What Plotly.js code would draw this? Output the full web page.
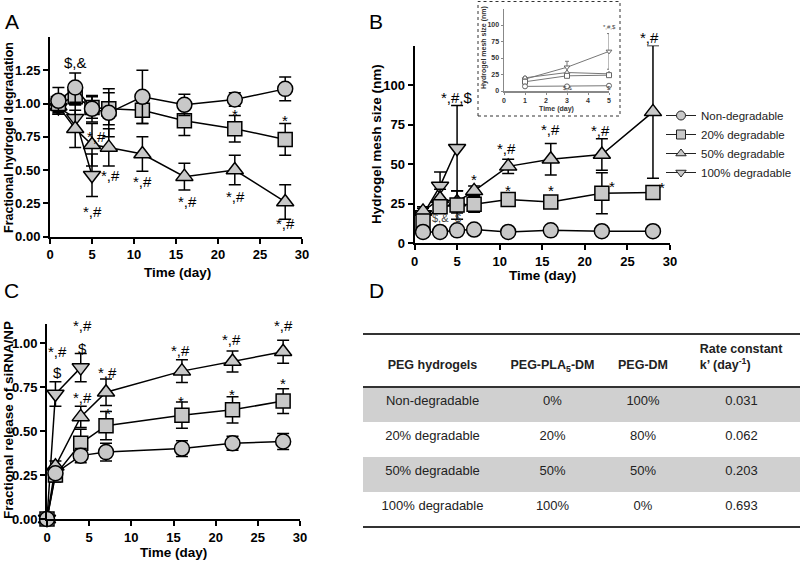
<!DOCTYPE html>
<html>
<head>
<meta charset="utf-8">
<script src="https://cdn.plot.ly/plotly-3.0.1.min.js"></script>
<style>html,body{margin:0;padding:0;background:#fff;}#chart{width:800px;height:561px;}</style>
</head>
<body>
<div id="chart"></div>
<script>
// ---------------- DATA ----------------
const seriesNames = ['Non-degradable', '20% degradable', '50% degradable', '100% degradable'];

// Panel A: fractional hydrogel degradation
const daysA = [1, 3, 5, 7, 11, 16, 22, 28];
const daysA100 = [1, 3, 5];
const A_non = [1.02, 1.12, 0.96, 0.93, 1.05, 0.99, 1.03, 1.11];
const A_nonErr = [0.10, 0.11, 0.10, 0.18, 0.20, 0.08, 0.05, 0.09];
const A_20 = [1.00, 1.05, 0.97, 0.96, 0.95, 0.87, 0.81, 0.73];
const A_20Err = [0.06, 0.06, 0.08, 0.12, 0.10, 0.11, 0.10, 0.12];
const A_50 = [0.98, 0.81, 0.69, 0.67, 0.62, 0.45, 0.50, 0.26];
const A_50Err = [0.05, 0.14, 0.16, 0.14, 0.13, 0.10, 0.11, 0.13];
const A_100 = [0.97, 0.89, 0.46];
const A_100Err = [0.05, 0.10, 0.16];
const annA_x = [3, 5.5, 5, 7.2, 11, 16.4, 22.1, 22, 28, 28];
const annA_y = [1.31, 0.75, 0.19, 0.455, 0.41, 0.26, 0.30, 0.92, 0.87, 0.10];
const annA_t = ['$,&', '*,#', '*,#', '*,#', '*,#', '*,#', '*,#', '*', '*', '*,#'];

// Panel B: hydrogel mesh size (nm)
const daysB = [1, 3, 5, 7, 11, 16, 22, 28];
const daysB100 = [1, 3, 5];
const B_non = [7, 7, 8, 8.5, 7, 8, 7.5, 7.5];
const B_nonErr = [1, 1, 1, 1, 1, 1, 1, 1];
const B_20 = [14, 23, 24, 24.5, 27.5, 26, 31.5, 32];
const B_20Err = [4, 4, 9, 5, 3, 3, 13, 3];
const B_50 = [20, 28, 26, 33, 48.5, 53, 56, 83];
const B_50Err = [3, 6, 7, 3, 4.5, 10, 10, 42];
const B_100 = [18, 36, 60];
const B_100Err = [4, 9, 27];
const annB_x = [5, 7, 10.8, 11, 16, 16, 21.8, 23.2, 27.6, 29.1];
const annB_y = [92, 40, 60, 33, 72, 33, 71.5, 36, 124, 35];
const annB_t = ['*,#,$', '*', '*,#', '*', '*,#', '*', '*,#', '*', '*,#', '*'];
const annB_shift = [0, 0, 0, 0, 0, 0, 0, 0, 10, 0];
const annBsmall_x = [3, 5.1];
const annBsmall_y = [16, 16];
const annBsmall_t = ['$,&', '$'];

// Inset of panel B (days 1-5)
const daysInset = [1, 3, 5];
const inset_non = [7, 7, 8];
const inset_20 = [14, 23, 24];
const inset_50 = [20, 28, 26];
const inset_100 = [18, 36, 60];
const inset_100Err = [4, 9, 27];
const annI_x = [5, 3, 5];
const annI_y = [97, 5, 5];
const annI_t = ['*,#,$', '$,&', '$'];

// Panel C: fractional release of siRNA/NP
const daysC = [0, 1, 4, 7, 16, 22, 28];
const daysC100 = [0, 1, 4];
const C_non = [0, 0.26, 0.36, 0.38, 0.40, 0.43, 0.44];
const C_nonErr = [0, 0.03, 0.04, 0.05, 0.045, 0.04, 0.045];
const C_20 = [0, 0.25, 0.43, 0.53, 0.59, 0.62, 0.67];
const C_20Err = [0, 0.04, 0.08, 0.08, 0.075, 0.075, 0.07];
const C_50 = [0, 0.30, 0.58, 0.72, 0.84, 0.895, 0.95];
const C_50Err = [0, 0.03, 0.06, 0.075, 0.065, 0.06, 0.065];
const C_100 = [0, 0.71, 0.86];
const C_100Err = [0, 0.07, 0.08];
const annC_x = [1.2, 1.2, 4.15, 4.15, 4.15, 7.2, 7.2, 15.8, 15.9, 21.9, 21.9, 28, 28];
const annC_y = [0.95, 0.83, 1.10, 0.97, 0.69, 0.835, 0.60, 0.96, 0.67, 1.02, 0.71, 1.10, 0.77];
const annC_t = ['*,#', '$', '*,#', '$', '*,#', '*,#', '*', '*,#', '*', '*,#', '*', '*,#', '*'];

// Panel D: table
const tableHeader = ['\u00a0<br><b>PEG hydrogels</b>', '\u00a0<br><b>PEG-PLA<sub>5</sub>-DM</b>', '\u00a0<br><b>PEG-DM</b>', '<b>Rate constant<br>k’ (day<sup>-1</sup>)</b>'];
const tableGroups = ['Non-degradable', '20% degradable', '50% degradable', '100% degradable'];
const tablePLA = ['0%', '20%', '50%', '100%'];
const tableDM = ['100%', '80%', '50%', '0%'];
const tableRate = ['0.031', '0.062', '0.203', '0.693'];

// --------------- LAYOUT HELPERS ---------------
const W = 800, H = 561;
const px = p => p / W;
const py = p => 1 - p / H;
const FONT = 'Arial, "Liberation Sans", sans-serif';
const symbols = ['circle', 'square', 'triangle-up', 'triangle-down'];
const sizes = {'circle': 15, 'square': 14, 'triangle-up': 15, 'triangle-down': 15};

function series(idx, x, y, err, xa, ya) {
  return {
    type: 'scatter', mode: 'lines+markers', name: seriesNames[idx], x: x, y: y,
    xaxis: xa, yaxis: ya, showlegend: false, cliponaxis: false,
    line: {color: '#000', width: 1.5},
    marker: {symbol: symbols[idx], size: sizes[symbols[idx]], color: '#c8c8c8', line: {color: '#000', width: 1.5}},
    error_y: {type: 'data', array: err, visible: true, color: '#000', thickness: 1.5, width: 6},
    hoverinfo: 'skip'
  };
}
function legendEntry(idx) {
  return {
    type: 'scatter', mode: 'lines+markers', name: seriesNames[idx], x: [null], y: [null],
    xaxis: 'x2', yaxis: 'y2', showlegend: true, legendrank: idx + 1,
    line: {color: '#222', width: 1},
    marker: {symbol: symbols[idx], size: 9, color: '#c8c8c8', line: {color: '#222', width: 1}},
    hoverinfo: 'skip'
  };
}
function insetSeries(idx, x, y, err) {
  return {
    type: 'scatter', mode: 'lines+markers', name: seriesNames[idx], x: x, y: y,
    xaxis: 'x4', yaxis: 'y4', showlegend: false, cliponaxis: false,
    line: {color: '#777', width: 1},
    marker: {symbol: symbols[idx], size: 5, color: '#fff', line: {color: '#666', width: 1}},
    error_y: {type: 'data', array: err || y.map(() => 0), visible: !!err, color: '#777', thickness: 1, width: 2},
    hoverinfo: 'skip'
  };
}

const traces = [];
// Panel A (draw order: 100%, 50%, 20%, Non)
traces.push(series(3, daysA100, A_100, A_100Err, 'x', 'y'));
traces.push(series(2, daysA, A_50, A_50Err, 'x', 'y'));
traces.push(series(1, daysA, A_20, A_20Err, 'x', 'y'));
traces.push(series(0, daysA, A_non, A_nonErr, 'x', 'y'));
// Panel B
traces.push(series(3, daysB100, B_100, B_100Err, 'x2', 'y2'));
traces.push(series(2, daysB, B_50, B_50Err, 'x2', 'y2'));
traces.push(series(1, daysB, B_20, B_20Err, 'x2', 'y2'));
traces.push(series(0, daysB, B_non, B_nonErr, 'x2', 'y2'));
// Panel C
traces.push(series(3, daysC100, C_100, C_100Err, 'x3', 'y3'));
traces.push(series(2, daysC, C_50, C_50Err, 'x3', 'y3'));
traces.push(series(1, daysC, C_20, C_20Err, 'x3', 'y3'));
traces.push(series(0, daysC, C_non, C_nonErr, 'x3', 'y3'));
// Inset
traces.push(insetSeries(3, daysInset, inset_100, inset_100Err));
traces.push(insetSeries(2, daysInset, inset_50));
traces.push(insetSeries(1, daysInset, inset_20));
traces.push(insetSeries(0, daysInset, inset_non));
// Legend entries
[0, 1, 2, 3].forEach(i => traces.push(legendEntry(i)));

// Panel D table
const rowFill = ['#d0d0d0', '#ffffff', '#d0d0d0', '#ffffff'];
traces.push({
  type: 'table',
  domain: {x: [px(363), 1], y: [py(545), py(334)]},
  columnwidth: [139, 101, 80, 117],
  header: {
    values: tableHeader,
    align: 'center', height: 53,
    fill: {color: '#ffffff'},
    line: {color: 'rgba(0,0,0,0)', width: 0},
    font: {family: FONT, size: 12.5, color: '#222'}
  },
  cells: {
    values: [tableGroups, tablePLA, tableDM, tableRate],
    align: 'center', height: 35,
    fill: {color: [rowFill, rowFill, rowFill, rowFill]},
    line: {color: 'rgba(0,0,0,0)', width: 0},
    font: {family: FONT, size: 13, color: '#222'}
  }
});

function axis(domain, range, tickvals, anchor, fmt, opts) {
  const a = {
    domain: domain, range: range, tickvals: tickvals, anchor: anchor,
    showgrid: false, zeroline: false, showline: true, linewidth: 2, linecolor: '#000',
    ticks: 'outside', ticklen: 5, tickwidth: 2, tickcolor: '#000',
    tickfont: {family: FONT, size: 13, color: '#000', weight: 'bold'},
    fixedrange: true, automargin: false
  };
  if (fmt) a.tickformat = fmt;
  return Object.assign(a, opts || {});
}

const ticks30 = [0, 5, 10, 15, 20, 25, 30];
const insetAxisStyle = {linewidth: 1.5, linecolor: '#888', ticklen: 2, tickwidth: 1, tickcolor: '#888',
  tickfont: {family: FONT, size: 7, color: '#333', weight: 'bold'}};
const layout = {
  width: W, height: H,
  margin: {l: 0, r: 0, t: 0, b: 0, pad: 0, autoexpand: false},
  paper_bgcolor: '#fff', plot_bgcolor: 'rgba(0,0,0,0)',
  showlegend: true,
  legend: {
    x: px(661), y: py(101), xanchor: 'left', yanchor: 'top',
    bgcolor: 'rgba(0,0,0,0)', itemsizing: 'trace', traceorder: 'normal',
    font: {family: FONT, size: 11.5, color: '#222'}
  },
  xaxis: axis([px(50), px(302)], [0, 30], ticks30, 'y'),
  yaxis: axis([py(236.5), py(37)], [0, 1.5], [0, 0.25, 0.5, 0.75, 1.0, 1.25], 'x', '.2f'),
  xaxis2: axis([px(414.5), px(670)], [0, 30], ticks30, 'y2'),
  yaxis2: axis([py(243), py(45.5)], [0, 125], [0, 25, 50, 75, 100], 'x2'),
  xaxis3: axis([px(47), px(300)], [0, 30], ticks30, 'y3'),
  yaxis3: axis([py(519), py(323.6)], [0, 1.11], [0, 0.25, 0.5, 0.75, 1.0], 'x3', '.2f'),
  xaxis4: axis([px(504), px(609)], [0, 5], [0, 1, 2, 3, 4, 5], 'y4', null, insetAxisStyle),
  yaxis4: axis([py(91), py(8.5)], [0, 125], [0, 25, 50, 75, 100], 'x4', null, insetAxisStyle),
  shapes: [
    // inset dotted frame
    {type: 'rect', xref: 'paper', yref: 'paper', x0: px(478), x1: px(620), y0: py(116), y1: py(1.5),
     line: {color: '#333', width: 1, dash: 'dot'}, fillcolor: 'rgba(0,0,0,0)'},
    // table rules
    {type: 'line', xref: 'paper', yref: 'paper', x0: px(363), x1: 1, y0: py(334), y1: py(334), line: {color: '#333', width: 2}},
    {type: 'line', xref: 'paper', yref: 'paper', x0: px(363), x1: 1, y0: py(387), y1: py(387), line: {color: '#333', width: 2}},
    {type: 'line', xref: 'paper', yref: 'paper', x0: px(363), x1: 1, y0: py(527), y1: py(527), line: {color: '#333', width: 2}}
  ],
  annotations: []
};

const ann = layout.annotations;
function paperText(text, x, y, size, opts) {
  ann.push(Object.assign({xref: 'paper', yref: 'paper', x: px(x), y: py(y), text: text, showarrow: false,
    font: {family: FONT, size: size, color: '#000'}, xanchor: 'center', yanchor: 'middle'}, opts || {}));
}
// panel letters
paperText('A', 3, 22, 21, {xanchor: 'left'});
paperText('B', 367, 21, 21, {xanchor: 'left'});
paperText('C', 2, 290, 21, {xanchor: 'left'});
paperText('D', 367, 290, 21, {xanchor: 'left'});
// axis titles
const bold = s => '<b>' + s + '</b>';
paperText(bold('Fractional hydrogel degradation'), 9, 138, 12.5, {textangle: -90});
paperText(bold('Time (day)'), 177, 272, 13.5);
paperText(bold('Hydrogel mesh size (nm)'), 376, 144, 13.5, {textangle: -90});
paperText(bold('Time (day)'), 542, 275, 13.5);
paperText(bold('Fractional release of siRNA/NP'), 8, 420, 13.5, {textangle: -90});
paperText(bold('Time (day)'), 173, 552, 13.5);
paperText(bold('Hydrogel mesh size (nm)'), 484, 48, 7, {textangle: -90, font: {family: FONT, size: 7, color: '#333'}});
paperText(bold('Time (day)'), 556, 109, 7, {font: {family: FONT, size: 7, color: '#333'}});

function dataNotes(xs, ys, ts, xref, yref, size, color, shifts) {
  xs.forEach((x, i) => ann.push({xref: xref, yref: yref, x: x, y: ys[i], text: ts[i], showarrow: false,
    yshift: shifts ? shifts[i] : 0,
    font: {family: FONT, size: size, color: color || '#000'}, xanchor: 'center', yanchor: 'middle'}));
}
dataNotes(annA_x, annA_y, annA_t, 'x', 'y', 15);
dataNotes(annB_x, annB_y, annB_t, 'x2', 'y2', 15, '#000', annB_shift);
dataNotes(annBsmall_x, annBsmall_y, annBsmall_t, 'x2', 'y2', 11, '#444');
dataNotes(annC_x, annC_y, annC_t, 'x3', 'y3', 15);
dataNotes(annI_x, annI_y, annI_t, 'x4', 'y4', 6, '#444');

Plotly.newPlot('chart', traces, layout, {staticPlot: true, displayModeBar: false});
</script>
</body>
</html>
